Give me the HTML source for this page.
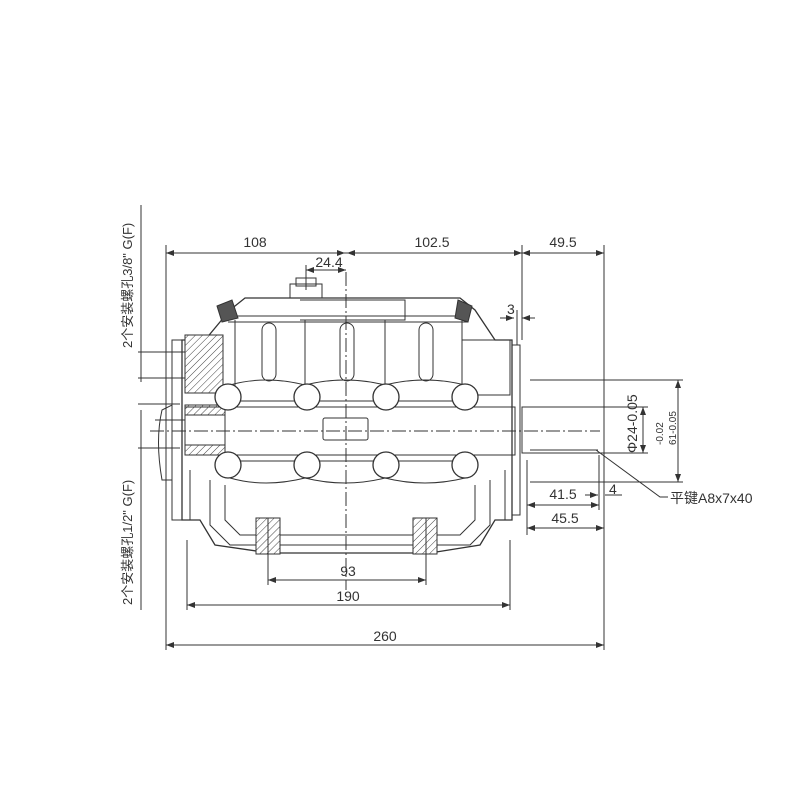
<!DOCTYPE html>
<html><head><meta charset="utf-8"><style>
html,body{margin:0;padding:0;background:#fff;}
svg{display:block}
text{font-family:"Liberation Sans","Noto Sans CJK SC",sans-serif;fill:#333;}
</style></head><body>
<svg width="800" height="800" viewBox="0 0 800 800" xmlns="http://www.w3.org/2000/svg">
<defs>
<pattern id="h" width="5" height="5" patternUnits="userSpaceOnUse" patternTransform="rotate(45)">
<rect width="5" height="5" fill="#fff"/><line x1="0" y1="0" x2="0" y2="5" stroke="#444" stroke-width="1"/></pattern>
<marker id="a" markerWidth="8" markerHeight="6" refX="8" refY="3" orient="auto-start-reverse"><path d="M0,0 L8,3 L0,6z" fill="#333"/></marker>
</defs>
<g stroke="#333" stroke-width="1" fill="none">
<line x1="166" y1="245" x2="166" y2="650"/>
<line x1="522" y1="245" x2="522" y2="340"/>
<line x1="604" y1="245" x2="604" y2="650"/>
<line x1="527" y1="460" x2="527" y2="535"/>
<line x1="599" y1="455" x2="599" y2="510"/>
<line x1="187" y1="540" x2="187" y2="610"/>
<line x1="510" y1="540" x2="510" y2="610"/>
<line x1="268" y1="540" x2="268" y2="585"/>
<line x1="426" y1="540" x2="426" y2="585"/>
<line x1="166" y1="253" x2="604" y2="253"/>
<line x1="166" y1="253" x2="345" y2="253" marker-start="url(#a)" marker-end="url(#a)"/>
<line x1="347" y1="253" x2="522" y2="253" marker-start="url(#a)" marker-end="url(#a)"/>
<line x1="522" y1="253" x2="604" y2="253" marker-start="url(#a)" marker-end="url(#a)"/>
<line x1="306" y1="270" x2="346" y2="270" marker-start="url(#a)" marker-end="url(#a)"/>
<line x1="306" y1="265" x2="306" y2="290"/>
<line x1="500" y1="318" x2="514" y2="318" marker-end="url(#a)"/>
<line x1="522" y1="318" x2="535" y2="318" marker-start="url(#a)"/>
<line x1="517" y1="310" x2="517" y2="345"/>
<line x1="268" y1="580" x2="426" y2="580" marker-start="url(#a)" marker-end="url(#a)"/>
<line x1="187" y1="605" x2="510" y2="605" marker-start="url(#a)" marker-end="url(#a)"/>
<line x1="166" y1="645" x2="604" y2="645" marker-start="url(#a)" marker-end="url(#a)"/>
<line x1="527" y1="505" x2="599" y2="505" marker-start="url(#a)" marker-end="url(#a)"/>
<line x1="527" y1="528" x2="604" y2="528" marker-start="url(#a)" marker-end="url(#a)"/>
<line x1="585" y1="495" x2="598" y2="495" marker-end="url(#a)"/>
<line x1="605" y1="495" x2="622" y2="495"/>
<line x1="530" y1="380" x2="683" y2="380"/>
<line x1="530" y1="482" x2="683" y2="482"/>
<line x1="604" y1="407" x2="648" y2="407"/>
<line x1="604" y1="453" x2="648" y2="453"/>
<line x1="678" y1="380" x2="678" y2="482" marker-start="url(#a)" marker-end="url(#a)"/>
<line x1="643" y1="407" x2="643" y2="453" marker-start="url(#a)" marker-end="url(#a)"/>
<polyline points="596,450 660,497 668,497"/>
<line x1="141" y1="205" x2="141" y2="382"/>
<line x1="138" y1="352" x2="185" y2="352"/>
<line x1="138" y1="378" x2="185" y2="378"/>
<line x1="141" y1="410" x2="141" y2="610"/>
<line x1="138" y1="404" x2="180" y2="404"/>
<line x1="138" y1="448" x2="180" y2="448"/>
<line x1="155" y1="420" x2="185" y2="420"/>
<line x1="346" y1="272" x2="346" y2="590" stroke-dasharray="14,3,2,3"/>
<line x1="150" y1="431" x2="600" y2="431" stroke-dasharray="14,3,2,3"/>
<rect x="522" y="407" width="82" height="46"/>
<line x1="530" y1="450" x2="598" y2="450"/>
<path d="M230,310 L245,298 L460,298 L475,310 L495,340 L512,340 L512,520 L495,520 L480,545 L430,553 L270,553 L215,545 L200,520 L182,520 L182,340 L205,340 Z" stroke-width="1.3"/>
<path d="M172,340 L182,340 L182,520 L172,520 Z"/>
<path d="M512,345 L520,345 L520,515 L512,515 Z"/>
<path d="M162,410 Q155,440 162,480 L172,480 L172,405 Z"/>
<rect x="290" y="284" width="32" height="14"/>
<rect x="296" y="278" width="20" height="8"/>
<path d="M300,300 L405,300 L405,320 L300,320"/>
<line x1="228" y1="322" x2="468" y2="322"/>
<line x1="232" y1="316" x2="465" y2="316"/>
<rect x="462" y="340" width="48" height="55"/>
<line x1="230" y1="401" x2="470" y2="401"/>
<line x1="230" y1="461" x2="470" y2="461"/>
<line x1="190" y1="520" x2="190" y2="470"/>
<line x1="505" y1="520" x2="505" y2="470"/>
<rect x="185" y="335" width="38" height="58" fill="url(#h)"/>
<rect x="185" y="405" width="40" height="50" fill="none"/>
<path d="M185,405 L225,405 L225,415 L185,415Z" fill="url(#h)"/>
<path d="M185,445 L225,445 L225,455 L185,455Z" fill="url(#h)"/>
<path d="M217,306 L232,300 L238,318 L222,322Z" fill="#555"/>
<path d="M458,300 L472,306 L468,322 L455,318Z" fill="#555"/>
<rect x="185" y="407" width="330" height="48"/>
<rect x="323" y="418" width="45" height="22" rx="2"/>
<rect x="262" y="323" width="14" height="58" rx="7"/>
<rect x="340" y="323" width="14" height="58" rx="7"/>
<rect x="419" y="323" width="14" height="58" rx="7"/>
<line x1="235" y1="320" x2="235" y2="395"/>
<line x1="462" y1="320" x2="462" y2="395"/>
<line x1="305" y1="320" x2="305" y2="385"/>
<line x1="385" y1="320" x2="385" y2="385"/>
<path d="M230,385 Q265,375 305,385 Q345,375 385,385 Q425,375 465,385"/>
<path d="M230,478 Q265,488 305,478 Q345,488 385,478 Q425,488 465,478"/>
<g stroke-width="1.3" fill="#fff">
<circle cx="228" cy="397" r="13"/><circle cx="307" cy="397" r="13"/><circle cx="386" cy="397" r="13"/><circle cx="465" cy="397" r="13"/>
<circle cx="228" cy="465" r="13"/><circle cx="307" cy="465" r="13"/><circle cx="386" cy="465" r="13"/><circle cx="465" cy="465" r="13"/>
</g>
<path d="M210,480 L210,525 L230,545 L470,545 L490,525 L490,480"/>
<path d="M225,485 L225,520 L240,535 L460,535 L475,520 L475,485"/>
<rect x="256" y="518" width="24" height="36" fill="url(#h)"/>
<rect x="413" y="518" width="24" height="36" fill="url(#h)"/>
<line x1="268" y1="518" x2="268" y2="554"/>
<line x1="426" y1="518" x2="426" y2="554"/>
</g>
<g font-size="14">
<text x="255" y="247" text-anchor="middle">108</text>
<text x="432" y="247" text-anchor="middle">102.5</text>
<text x="563" y="247" text-anchor="middle">49.5</text>
<text x="329" y="267" text-anchor="middle">24.4</text>
<text x="507" y="314">3</text>
<text x="348" y="576" text-anchor="middle">93</text>
<text x="348" y="601" text-anchor="middle">190</text>
<text x="385" y="641" text-anchor="middle">260</text>
<text x="563" y="499" text-anchor="middle">41.5</text>
<text x="565" y="523" text-anchor="middle">45.5</text>
<text x="609" y="494">4</text>
<text x="670" y="503">平键A8x7x40</text>
<text transform="translate(637,453) rotate(-90)">Φ24-0.05</text>
<text transform="translate(132,348) rotate(-90)" font-size="13">2个安装螺孔3/8" G(F)</text>
<text transform="translate(132,605) rotate(-90)" font-size="13">2个安装螺孔1/2" G(F)</text>
</g>
<g font-size="10">
<text transform="translate(663,445) rotate(-90)">-0.02</text>
<text transform="translate(676,445) rotate(-90)">61-0.05</text>
</g>
</svg>
</body></html>
